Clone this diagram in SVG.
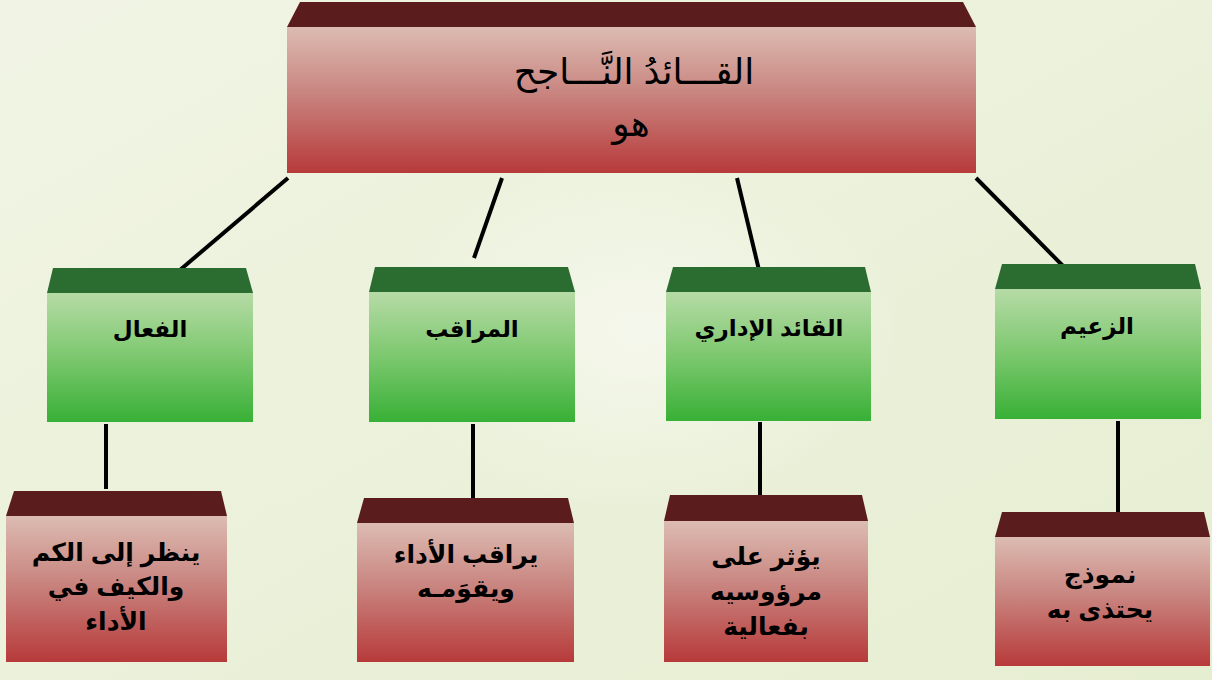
<svg xmlns="http://www.w3.org/2000/svg" width="1212" height="680" viewBox="0 0 1212 680">
<defs>
<linearGradient id="bg" x1="0" y1="0" x2="1" y2="1">
<stop offset="0" stop-color="#f1f4e4"/>
<stop offset="0.5" stop-color="#ebf1da"/>
<stop offset="1" stop-color="#e6eed2"/>
</linearGradient>
<radialGradient id="glow" cx="0.5" cy="0.5" r="0.5">
<stop offset="0" stop-color="#f6f8ee" stop-opacity="0.9"/>
<stop offset="1" stop-color="#f6f8ee" stop-opacity="0"/>
</radialGradient>
<linearGradient id="red" x1="0" y1="0" x2="0" y2="1">
<stop offset="0" stop-color="#dcbcb2"/>
<stop offset="0.45" stop-color="#c98580"/>
<stop offset="1" stop-color="#b73a3a"/>
</linearGradient>
<linearGradient id="green" x1="0" y1="0" x2="0" y2="1">
<stop offset="0" stop-color="#b6dba6"/>
<stop offset="0.5" stop-color="#7cc86e"/>
<stop offset="1" stop-color="#38b036"/>
</linearGradient>
<style>
.rtop{fill:#5a1c1d}
.rbody{fill:url(#red)}
.gtop{fill:#2b6c31}
.gbody{fill:url(#green)}
.conn line{stroke:#000;stroke-width:4;stroke-linecap:butt}
text{font-family:"Liberation Sans",Arial,"DejaVu Sans",sans-serif;fill:#000;text-anchor:middle;direction:rtl}
.title{font-size:36px}
.lbl{font-size:23px;font-weight:bold}
.desc{font-size:25px;font-weight:bold}
</style>
</defs>
<rect width="1212" height="680" fill="url(#bg)"/>
<ellipse cx="640" cy="330" rx="260" ry="180" fill="url(#glow)"/>

<g class="conn" id="connectors">
<line x1="288" y1="178" x2="180" y2="270"/>
<line x1="502" y1="178" x2="474" y2="258"/>
<line x1="737" y1="178" x2="759" y2="270"/>
<line x1="976" y1="178" x2="1066" y2="269"/>
<line x1="106" y1="424" x2="106" y2="489"/>
<line x1="473" y1="424" x2="473" y2="500"/>
<line x1="760" y1="422" x2="760" y2="500"/>
<line x1="1118" y1="421" x2="1118" y2="516"/>
</g>

<g id="root">
<polygon class="rtop" points="300,2 963,2 976,27 287,27"/>
<rect class="rbody" x="287" y="27" width="689" height="146"/>
<text class="title" x="634" y="84">القـــائدُ النَّـــاجح</text>
<text class="title" x="631" y="136">هو</text>
</g>

<g id="g1">
<polygon class="gtop" points="53,268 246,268 253,293 47,293"/>
<rect class="gbody" x="47" y="293" width="206" height="129"/>
<text class="lbl" x="150" y="337">الفعال</text>
</g>
<g id="g2">
<polygon class="gtop" points="375,267 568,267 575,292 369,292"/>
<rect class="gbody" x="369" y="292" width="206" height="130"/>
<text class="lbl" x="472" y="337">المراقب</text>
</g>
<g id="g3">
<polygon class="gtop" points="673,267 865,267 871,292 666,292"/>
<rect class="gbody" x="666" y="292" width="205" height="129"/>
<text class="lbl" x="769" y="336">القائد الإداري</text>
</g>
<g id="g4">
<polygon class="gtop" points="1002,264 1195,264 1201,289 995,289"/>
<rect class="gbody" x="995" y="289" width="206" height="130"/>
<text class="lbl" x="1097" y="334">الزعيم</text>
</g>

<g id="r1">
<polygon class="rtop" points="14,491 221,491 227,516 6,516"/>
<rect class="rbody" x="6" y="516" width="221" height="146"/>
<text class="desc" x="116" y="561">ينظر إلى الكم</text>
<text class="desc" x="116" y="595">والكيف في</text>
<text class="desc" x="116" y="630">الأداء</text>
</g>
<g id="r2">
<polygon class="rtop" points="364,498 568,498 574,523 357,523"/>
<rect class="rbody" x="357" y="523" width="217" height="139"/>
<text class="desc" x="466" y="563">يراقب الأداء</text>
<text class="desc" x="466" y="597">ويقوَمـه</text>
</g>
<g id="r3">
<polygon class="rtop" points="670,495 862,495 868,521 664,521"/>
<rect class="rbody" x="664" y="521" width="204" height="141"/>
<text class="desc" x="766" y="565">يؤثر على</text>
<text class="desc" x="766" y="600">مرؤوسيه</text>
<text class="desc" x="766" y="635">بفعالية</text>
</g>
<g id="r4">
<polygon class="rtop" points="1002,512 1204,512 1210,537 995,537"/>
<rect class="rbody" x="995" y="537" width="215" height="129"/>
<text class="desc" x="1100" y="583">نموذج</text>
<text class="desc" x="1100" y="618">يحتذى به</text>
</g>
</svg>
